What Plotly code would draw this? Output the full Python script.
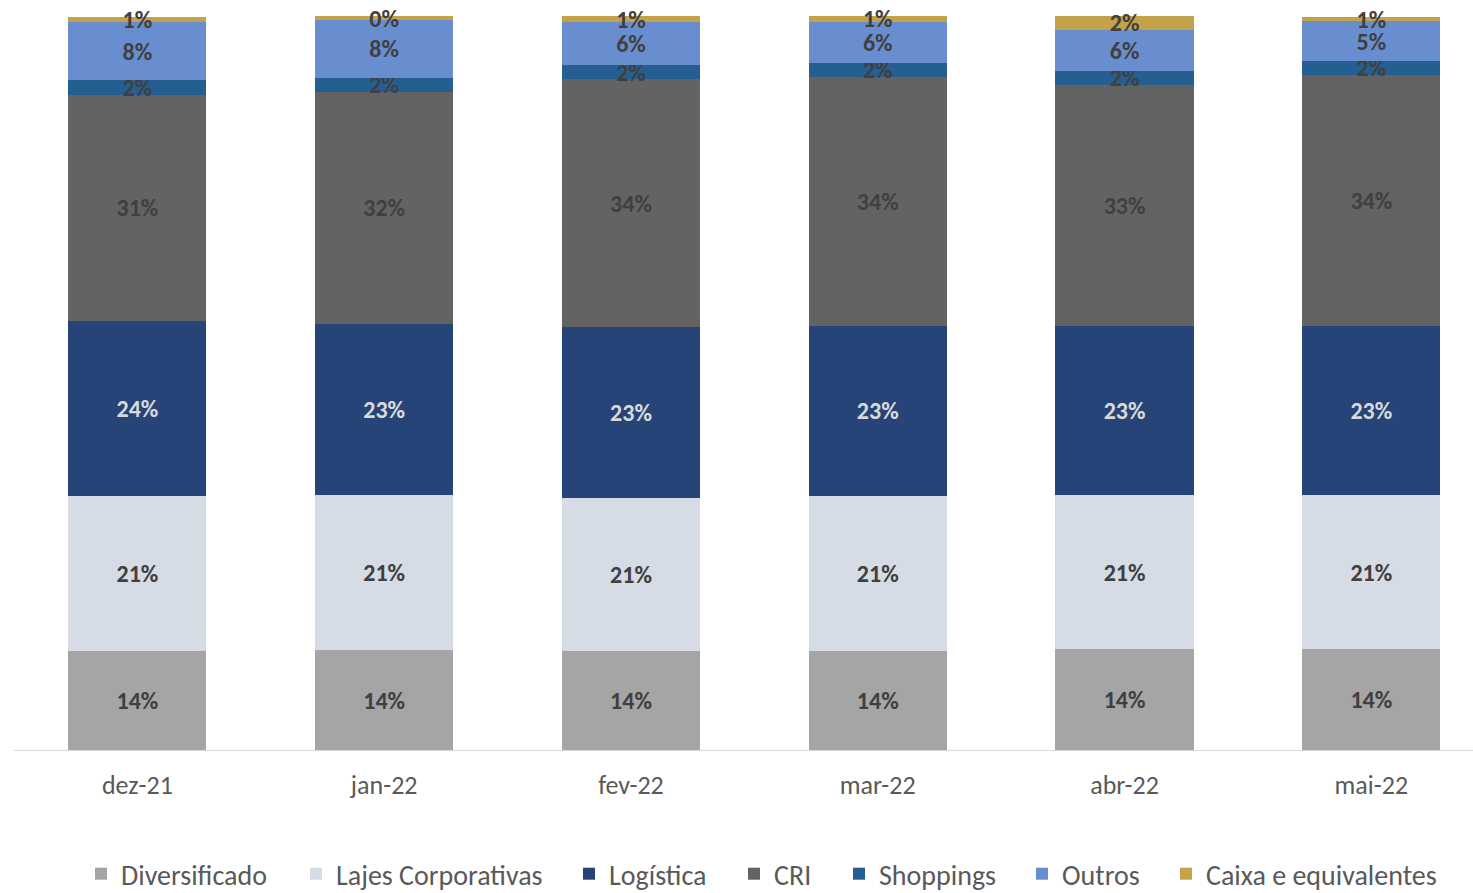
import plotly.graph_objects as go

# Monthly allocation of the portfolio (share of total, each month sums to ~1)
months = ["dez-21", "jan-22", "fev-22", "mar-22", "abr-22", "mai-22"]

diversificado = [0.135, 0.136, 0.135, 0.135, 0.137, 0.137]
lajes_corporativas = [0.211, 0.211, 0.209, 0.2115, 0.211, 0.210]
logistica = [0.238, 0.233, 0.232, 0.231, 0.230, 0.231]
cri = [0.309, 0.317, 0.338, 0.339, 0.328, 0.342]
shoppings = [0.0195, 0.0185, 0.019, 0.020, 0.0195, 0.0187]
outros = [0.079, 0.0795, 0.059, 0.056, 0.056, 0.054]
caixa = [0.0078, 0.0045, 0.0078, 0.0072, 0.018, 0.0064]

series = [
    ("Diversificado", diversificado, "#A5A5A5", "#404040"),
    ("Lajes Corporativas", lajes_corporativas, "#D6DCE5", "#404040"),
    ("Logística", logistica, "#264478", "#D9D9D9"),
    ("CRI", cri, "#636363", "#404040"),
    ("Shoppings", shoppings, "#255E91", "#404040"),
    ("Outros", outros, "#698ED0", "#404040"),
    ("Caixa e equivalentes", caixa, "#C4A24A", "#404040"),
]

# left edge (px) of each legend entry along the bottom row
legend_left_px = [81, 296, 569, 734, 839, 1022, 1166]

FONT = "Calibri, Carlito, Lato, sans-serif"
W, H = 1473, 893

fig = go.Figure()
legends = {}
for i, (name, values, color, text_color) in enumerate(series):
    key = "legend" if i == 0 else f"legend{i + 1}"
    fig.add_trace(
        go.Bar(
            name=name,
            x=months,
            y=values,
            marker=dict(color=color, line=dict(width=0)),
            texttemplate="%{y:.0%}",
            textposition="inside",
            insidetextanchor="middle",
            constraintext="none",
            textangle=0,
            insidetextfont=dict(family=FONT, size=24, color=text_color, weight="bold"),
            cliponaxis=False,
            hoverinfo="skip",
            legend=key,
        )
    )
    legends[key] = dict(
        xref="container",
        yref="container",
        x=legend_left_px[i] / W,
        xanchor="left",
        y=(H - 874) / H,
        yanchor="middle",
        orientation="h",
        font=dict(family=FONT, size=28, color="#595959"),
        itemwidth=30,
        bgcolor="rgba(0,0,0,0)",
        borderwidth=0,
    )

n = len(months)
fig.update_layout(
    barmode="stack",
    bargap=0.44,
    width=W,
    height=H,
    margin=dict(l=14, r=0, t=16, b=143, autoexpand=False),
    plot_bgcolor="white",
    paper_bgcolor="white",
    font=dict(family=FONT, color="#595959"),
    showlegend=True,
    xaxis=dict(
        range=[-0.5, n - 0.5 - 0.088],
        showline=True,
        linecolor="#D9D9D9",
        linewidth=1,
        showgrid=False,
        ticks="",
        ticklabelstandoff=12,
        automargin=False,
        tickfont=dict(family=FONT, size=26, color="#595959"),
        fixedrange=True,
    ),
    yaxis=dict(
        range=[0, 1],
        visible=False,
        showgrid=False,
        fixedrange=True,
    ),
    **legends,
)

fig.write_html("out.html")
